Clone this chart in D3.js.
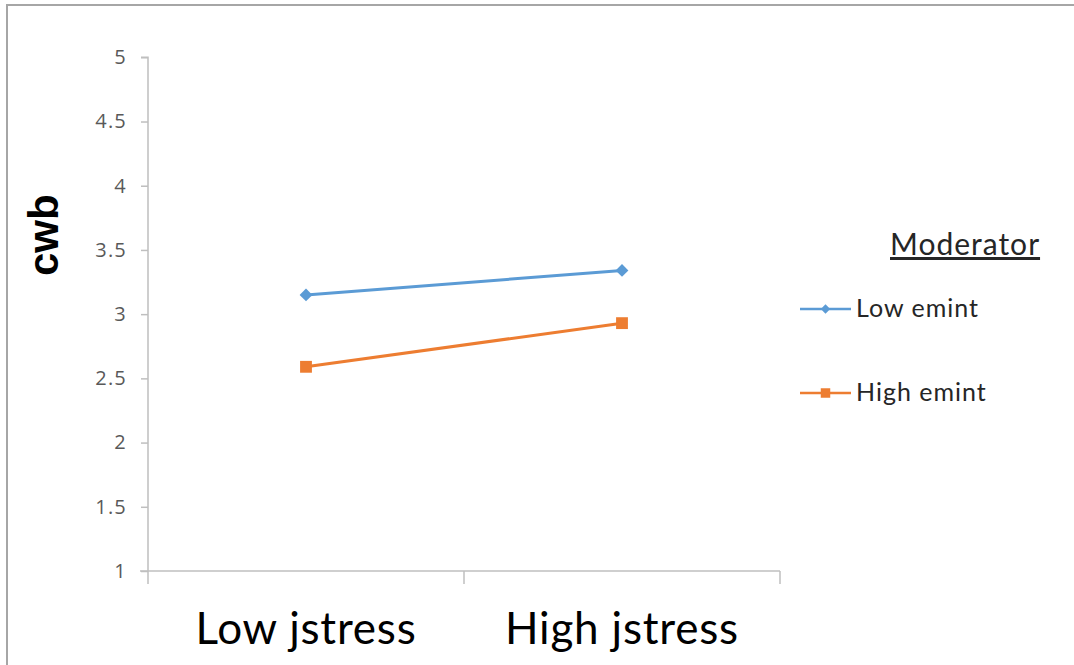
<!DOCTYPE html>
<html>
<head>
<meta charset="utf-8">
<script src="https://cdn.jsdelivr.net/npm/d3@7/dist/d3.min.js"></script>
<style>
  html, body { margin: 0; padding: 0; background: #fff; }
  svg { display: block; }
</style>
</head>
<body>
<svg id="chart" width="1074" height="665"></svg>
<script>
// Interaction plot: cwb by job stress level, moderated by emotional intelligence
const categories = ["Low jstress", "High jstress"];
const seriesNames = ["Low emint", "High emint"];
const lowEmint = [3.15, 3.34];
const highEmint = [2.59, 2.93];
const yTicks = [1, 1.5, 2, 2.5, 3, 3.5, 4, 4.5, 5];
const yTitle = "cwb";
const legendTitle = "Moderator";

const colors = ["#5b9bd5", "#ed7d31"];
const series = [
  { name: seriesNames[0], values: lowEmint, color: colors[0], shape: d3.symbolDiamond2, size: 104, legendSize: 56 },
  { name: seriesNames[1], values: highEmint, color: colors[1], shape: d3.symbolSquare, size: 140, legendSize: 90 }
];

const svg = d3.select("#chart");
const W = 1074, H = 665;

// Outer frame (top and left edges visible)
svg.append("path")
  .attr("d", `M7,${H} L7,5 L${W},5`)
  .attr("fill", "none")
  .attr("stroke", "#a6a6a6")
  .attr("stroke-width", 2);

const plot = { left: 148, right: 780, top: 57.3, bottom: 571 };

const x = d3.scaleBand().domain(categories).range([plot.left, plot.right]).padding(0);
const y = d3.scaleLinear().domain([1, 5]).range([plot.bottom, plot.top]);

const axisColor = "#bfbfbf";
const tickTextColor = "#595959";

// Y axis
const yAxis = svg.append("g")
  .attr("transform", `translate(${plot.left},0)`)
  .call(d3.axisLeft(y).tickValues(yTicks).tickSize(7).tickPadding(14).tickFormat(d3.format("")));
yAxis.select(".domain").attr("stroke", axisColor).attr("stroke-width", 1.5)
  .attr("d", `M-7,${plot.top}H0V${plot.bottom}`);
yAxis.selectAll(".tick line").attr("stroke", axisColor).attr("stroke-width", 1.5);
yAxis.selectAll(".tick text")
  .attr("fill", tickTextColor)
  .style("font-family", "'Open Sans', 'DejaVu Sans', sans-serif")
  .style("font-size", "20px")
  .style("letter-spacing", "1.2px");

// X axis with boundary ticks between categories
const xAxisG = svg.append("g").attr("transform", `translate(0,${plot.bottom})`);
xAxisG.append("line")
  .attr("x1", plot.left - 8).attr("x2", plot.right)
  .attr("y1", 0).attr("y2", 0)
  .attr("stroke", axisColor).attr("stroke-width", 1.5);
const boundaries = [plot.left, ...categories.map(c => x(c) + x.bandwidth())];
xAxisG.selectAll("line.tick").data(boundaries).enter().append("line")
  .attr("class", "tick")
  .attr("x1", d => d).attr("x2", d => d)
  .attr("y1", 0).attr("y2", 13)
  .attr("stroke", axisColor).attr("stroke-width", 1.5);
xAxisG.selectAll("text").data(categories).enter().append("text")
  .attr("x", d => x(d) + x.bandwidth() / 2)
  .attr("y", 73)
  .attr("text-anchor", "middle")
  .attr("fill", "#000")
  .style("font-family", "Lato, 'Open Sans', sans-serif")
  .style("font-size", "44px")
  .style("letter-spacing", "0.8px")
  .text(d => d);

// Y axis title
svg.append("text")
  .attr("transform", `translate(58,${(plot.top + plot.bottom) / 2 - 79}) rotate(-90)`)
  .attr("text-anchor", "middle")
  .attr("fill", "#000")
  .style("font-family", "'Liberation Sans', Arial, sans-serif")
  .style("font-weight", "bold")
  .style("font-size", "42px")
  .text(yTitle);

// Series lines and markers
const line = d3.line()
  .x((d, i) => x(categories[i]) + x.bandwidth() / 2)
  .y(d => y(d));

series.forEach(s => {
  const g = svg.append("g");
  g.append("path")
    .datum(s.values)
    .attr("d", line)
    .attr("fill", "none")
    .attr("stroke", s.color)
    .attr("stroke-width", 3);
  g.selectAll("path.marker").data(s.values).enter().append("path")
    .attr("class", "marker")
    .attr("transform", (d, i) => `translate(${x(categories[i]) + x.bandwidth() / 2},${y(d)})`)
    .attr("d", d3.symbol().type(s.shape).size(s.size))
    .attr("fill", s.color);
});

// Legend
const legend = svg.append("g");
legend.append("text")
  .attr("x", 890).attr("y", 255)
  .attr("fill", "#262626")
  .style("font-family", "Lato, 'Open Sans', sans-serif")
  .style("font-size", "30px")
  .style("letter-spacing", "1px")
  .style("text-decoration", "underline")
  .text(legendTitle);

series.forEach((s, i) => {
  const cy = 309 + i * 84;
  legend.append("line")
    .attr("x1", 800).attr("x2", 851).attr("y1", cy).attr("y2", cy)
    .attr("stroke", s.color).attr("stroke-width", 2.5);
  legend.append("path")
    .attr("transform", `translate(825.5,${cy})`)
    .attr("d", d3.symbol().type(s.shape).size(s.legendSize))
    .attr("fill", s.color);
  legend.append("text")
    .attr("x", 856).attr("y", cy + 8)
    .attr("fill", "#262626")
    .style("font-family", "Lato, 'Open Sans', sans-serif")
    .style("font-size", "25px")
    .style("letter-spacing", "1px")
    .text(s.name);
});
</script>
</body>
</html>
